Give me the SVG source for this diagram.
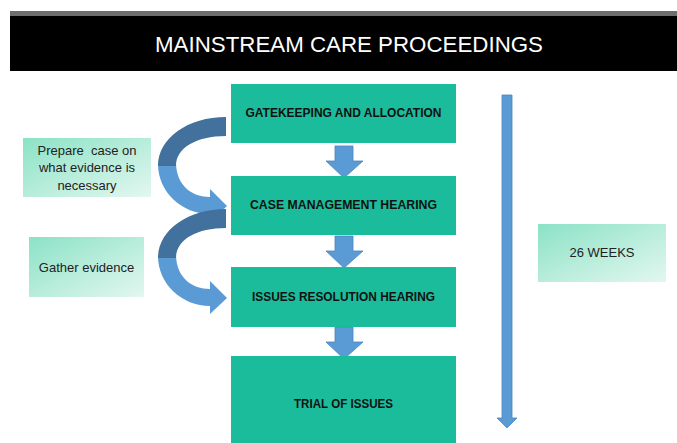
<svg xmlns="http://www.w3.org/2000/svg" width="677" height="443" viewBox="0 0 677 443">
  <style>
    .stage { fill: #1BBC9B; }
    .stage-label { font-family: "Liberation Sans", Arial, sans-serif; font-weight: bold; font-size: 12px; fill: #111; text-anchor: middle; }
    .note { fill: url(#noteFill); }
    .note-label { font-family: "Liberation Sans", Arial, sans-serif; font-size: 13px; fill: #222; text-anchor: middle; white-space: pre; }
    .down { fill: #5B9BD5; stroke: #4A86BE; stroke-width: 0.8; }
    .curl-back { fill: #41719C; }
    .curl-front { fill: #5B9BD5; }
  </style>
  <defs>
    <linearGradient id="noteFill" x1="0" y1="0" x2="1" y2="1">
      <stop offset="0" stop-color="#8BE2C6"/>
      <stop offset="1" stop-color="#E3F7F0"/>
    </linearGradient>
    <!-- curved feedback arrow, drawn once and reused -->
    <g id="curl">
      <path class="curl-front" d="M158,164 C158,192 182,214 210,214 L210,222 L227,206 L210,189 L210,197 C192,197 177,186 176,164 Z"/>
      <path class="curl-back" d="M226,117 C188,117 158,138 158,166 L176,166 C176,148 196,136 226,136 Z"/>
    </g>
  </defs>

  <!-- header band -->
  <g id="header">
    <rect x="10" y="11" width="667" height="5" fill="#6E6E6E"/>
    <rect x="10" y="16" width="667" height="55" fill="#000"/>
    <text x="349" y="52" font-family="'Liberation Sans Narrow', 'Liberation Sans', Arial, sans-serif" font-size="22" fill="#fff" text-anchor="middle" textLength="388" lengthAdjust="spacingAndGlyphs">MAINSTREAM CARE PROCEEDINGS</text>
  </g>

  <!-- connectors -->
  <g id="connectors">
    <path class="down" d="M335,146 H353 V161 H363 L344,178 L326,161 H335 Z"/>
    <path class="down" d="M335,236 H353 V251 H363 L344,268 L326,251 H335 Z"/>
    <path class="down" d="M335,327 H353 V342 H363 L344,359 L326,342 H335 Z"/>
    <use href="#curl"/>
    <use href="#curl" transform="translate(0,92)"/>
    <path class="down" d="M502,95 H512 V418 H517 L507,428 L497,418 H502 Z"/>
  </g>

  <!-- process stages -->
  <g id="gatekeeping">
    <rect class="stage" x="231" y="84" width="225" height="59"/>
    <text class="stage-label" x="343.5" y="117" textLength="196" lengthAdjust="spacingAndGlyphs">GATEKEEPING AND ALLOCATION</text>
  </g>
  <g id="case-management">
    <rect class="stage" x="231" y="176" width="225" height="59"/>
    <text class="stage-label" x="343.5" y="209" textLength="187" lengthAdjust="spacingAndGlyphs">CASE MANAGEMENT HEARING</text>
  </g>
  <g id="issues-resolution">
    <rect class="stage" x="231" y="267" width="225" height="60"/>
    <text class="stage-label" x="343.5" y="301" textLength="183" lengthAdjust="spacingAndGlyphs">ISSUES RESOLUTION HEARING</text>
  </g>
  <g id="trial">
    <rect class="stage" x="231" y="356" width="225" height="87"/>
    <text class="stage-label" x="343.5" y="408" textLength="99" lengthAdjust="spacingAndGlyphs">TRIAL OF ISSUES</text>
  </g>

  <!-- side notes -->
  <g id="prepare-case">
    <rect class="note" x="23" y="138" width="128" height="59"/>
    <text class="note-label" x="87" y="155" xml:space="preserve">Prepare  case on</text>
    <text class="note-label" x="87" y="172">what evidence is</text>
    <text class="note-label" x="87" y="190">necessary</text>
  </g>
  <g id="gather-evidence">
    <rect class="note" x="29" y="237" width="115" height="60"/>
    <text class="note-label" x="86.5" y="272">Gather evidence</text>
  </g>
  <g id="duration">
    <rect class="note" x="538" y="224" width="128" height="58"/>
    <text class="note-label" x="602" y="257">26 WEEKS</text>
  </g>
</svg>
